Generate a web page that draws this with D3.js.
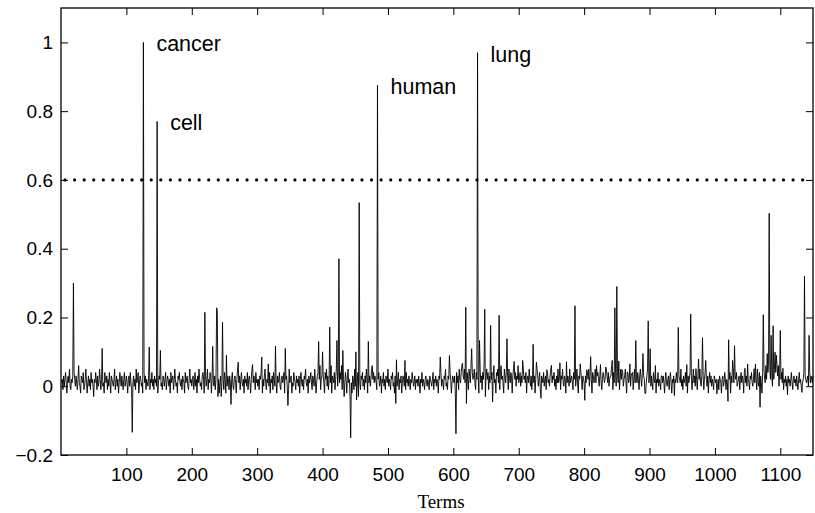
<!DOCTYPE html>
<html>
<head>
<meta charset="utf-8">
<script src="https://cdn.jsdelivr.net/npm/d3@7"></script>
<style>
  body { margin: 0; background: #fff; }
  text { font-family: "Liberation Sans", Arial, sans-serif; }
</style>
</head>
<body>
<div id="main"></div>
<script>
// background weight of every term, read roughly off the band around zero
var noise = [
  // 1-100
  .01,.02,-.01,.03,0, .02,.04,.01,-.02,.02, .03,.01,.05,0,-.01, .02,.01,.03,-.02,.04,
  .02,0,.03,.01,-.01, .02,.06,.01,0,-.02, .03,.02,.01,.04,-.01, 0,.02,.05,.01,-.02,
  .01,.03,0,.02,-.01, .04,.01,.02,0,-.03, .02,.01,.04,.02,-.01, .03,0,.01,.05,.02,
  -.01,.02,.03,0,.01, -.02,.04,.02,.01,.03, -.01,.02,0,.04,.01, -.02,.03,.02,.01,0,
  .02,.05,-.01,.01,.03, 0,.02,-.02,.01,.04, .02,0,.03,.01,-.01, .02,.04,0,.01,.03,
  // 101-200
  .01,-.02,.02,.03,0, .04,.01,-.01,.02,.01, .03,0,.02,-.01,.05, .01,.02,.04,-.02,.01,
  .03,.02,0,.01,-.02, .02,.04,.01,.03,-.01, .02,.01,0,.03,.05, -.01,.02,.01,.04,0,
  .02,-.01,.03,.01,.02, 0,.04,-.02,.01,.03, .02,.05,0,.01,-.01, .03,.02,0,.02,.04,
  -.01,.01,.03,.02,0, .02,-.02,.04,.01,.02, .03,-.01,.01,.05,.02, 0,.01,-.02,.03,.02,
  .04,.01,0,.02,-.01, .03,.02,.01,-.02,.04, .01,.02,.03,0,-.01, .02,.05,.01,.02,0,
  // 201-300
  .02,.03,-.01,.01,.04, 0,.02,-.02,.03,.01, .05,.02,0,.01,-.01, .03,.04,.02,-.02,.01,
  .03,0,.02,.05,-.01, .02,.01,.04,.03,-.02, .02,.06,.01,0,.03, -.01,.02,.04,.01,-.03,
  .02,-.02,.01,.03,-.03, .01,0,.02,-.01,.04, .02,-.02,.01,0,.03, .02,-.01,.03,.01,0,
  .02,.04,0,-.01,.02, .03,.01,-.02,.02,.05, 0,.01,.03,-.01,.02, .04,.01,0,.02,-.02,
  .03,.01,.02,0,.04, -.01,.02,.03,.01,-.02, .02,.05,0,.01,.03, .02,-.01,.04,.01,.02,
  // 301-400
  0,.02,-.01,.03,.02, .04,.01,-.02,.02,0, .03,.05,.01,-.01,.02, .01,.03,0,.04,-.02,
  .02,.01,.03,-.01,.04, .02,0,.05,.01,-.02, .03,.01,.02,.04,0, -.01,.02,.03,.01,.02,
  .04,-.02,.01,.02,.03, 0,.02,-.01,.05,.01, .02,.03,-.02,.01,0, .04,.02,.01,-.01,.03,
  .01,.02,0,.03,-.02, .02,.04,.01,0,.02, -.01,.03,.02,.05,.01, 0,.02,-.02,.03,.01,
  .02,.04,.01,-.01,.03, .02,0,.05,.02,-.02, .01,.03,.04,0,.02, .06,-.01,.02,.03,.01,
  // 401-500
  .03,.01,-.02,.04,.02, .05,0,.03,-.01,.02, .04,.01,.06,-.02,.03, .02,.01,.04,-.01,.02,
  .05,.02,0,.03,-.02, .01,.04,.02,.06,-.01, .03,.02,-.03,.01,.04, .02,-.02,.03,.05,.01,
  .02,-.03,.04,.01,-.02, .03,.02,-.01,.05,0, -.02,.03,.01,.04,-.03, .02,.01,-.01,.03,.02,
  .04,0,.02,-.01,.03, .01,.05,.02,-.02,.04, .01,.03,0,.02,.05, -.01,.02,.04,.01,.03,
  .02,.01,-.01,.03,.02, .04,0,.01,.03,-.02, .02,.01,.04,0,.02, -.01,.03,.02,.01,.05,
  // 501-600
  0,.02,.01,-.01,.03, .02,.04,0,.01,-.02, .03,.02,.01,0,.02, .04,-.01,.02,.01,.03,
  -.02,.01,.03,.02,0, .02,-.01,.04,.01,.02, 0,.03,.01,-.01,.02, .01,.04,.02,0,.01,
  .03,-.01,.02,.01,.02, 0,.03,.01,-.02,.02, .01,.04,0,.02,.01, -.01,.02,.03,.01,0,
  .02,.01,-.01,.03,.02, .01,0,.02,.04,-.01, .02,.01,.03,0,.02, .01,-.02,.03,.02,.01,
  .04,0,.02,.01,-.01, .03,.02,.05,0,.01, -.01,.03,.02,.01,.04, .02,-.02,.01,.03,.02,
  // 601-700
  .01,.03,-.02,.02,.04, .01,.03,-.01,.05,.02, .01,.04,.06,-.01,.03, .02,.05,.01,.03,.02,
  .04,.02,-.01,.05,.03, .01,.06,-.02,.04,.02, .03,.05,.01,-.01,.04, .02,.07,.03,-.02,.02,
  .05,.01,.03,-.01,.04, .02,.06,.01,-.03,.03, .05,.02,.04,-.01,.03, .01,.05,.02,.04,0,
  .03,.06,.01,.02,-.02, .04,.03,.05,.01,.02, -.01,.04,.06,.02,.03, .01,-.02,.05,.03,.01,
  .04,.02,.03,-.01,.05, .02,.01,.04,.03,-.02, .03,.05,.01,.02,.04, 0,.03,.02,.06,.01,
  // 701-800
  .02,.04,0,.03,.01, -.01,.05,.02,.03,.01, .04,-.02,.02,.03,.01, .05,.02,0,.03,-.01,
  .02,.04,.01,.03,-.02, .02,.01,.05,.03,0, .02,.04,-.01,.01,.03, .02,.01,.04,0,.02,
  .03,-.01,.02,.04,.01, .02,0,.03,.05,-.02, .01,.03,.02,.04,0, .02,-.01,.03,.01,.05,
  .01,.02,.04,-.01,.03, .02,.05,.01,0,.03, .02,-.02,.04,.01,.03, .02,0,.05,.01,.02,
  .03,.01,-.01,.04,.02, .03,0,.02,.05,.01, -.02,.03,.02,.01,.04, .02,-.01,.03,.02,.01,
  // 801-900
  .02,.03,.01,-.01,.04, .02,.05,0,.03,.01, .02,-.02,.04,.03,.01, .02,.05,.01,-.01,.03,
  .04,.02,0,.03,.05, .01,-.01,.02,.04,.03, .01,.02,-.02,.05,.03, .01,.04,0,.02,.03,
  .03,.06,.02,-.01,.04, .01,.03,.05,0,.02, .04,.01,.03,-.01,.02, .05,.02,.01,.04,0,
  .02,.03,.05,.01,-.02, .03,.04,.01,.02,.06, 0,.03,.02,.04,-.01, .02,.05,.01,.03,.02,
  .01,.04,.02,-.01,.03, .05,.02,0,.04,.01, .03,.02,-.02,.04,.01, .03,.05,.02,.01,.03,
  // 901-1000
  .02,0,.03,.01,-.01, .04,.02,.01,.03,-.02, .02,.01,.04,0,.02, .01,-.01,.03,.02,.01,
  .03,.01,-.02,.02,.04, .01,0,.02,.03,-.01, .02,.04,.01,-.02,.02, .01,.03,0,.02,.01,
  .04,.02,.01,-.01,.03, .02,.01,.05,0,.02, -.01,.03,.01,.02,.04, 0,.02,-.02,.03,.01,
  .02,.04,.01,.03,-.01, .02,.05,.01,.03,0, .04,.02,-.01,.03,.01, .02,.05,.01,0,.03,
  .01,.03,-.01,.02,.04, .01,.02,0,.03,-.02, .02,.04,.01,.03,0, .02,.01,-.01,.03,.02,
  // 1001-1100
  .01,.02,.04,0,.02, -.01,.03,.02,.01,-.02, .02,.03,0,.01,.04, .02,-.01,.02,.01,.03,
  0,.02,.04,-.02,.03, .01,.02,.05,.01,-.01, .03,.02,.04,0,.01, .02,.03,-.01,.02,.04,
  .01,.03,.02,-.02,.04, .02,.01,.03,0,.05, .02,.01,-.01,.03,.02, .04,.01,0,.02,.03,
  .01,.04,.02,-.01,.05, .01,0,.04,.02,.03, .01,-.02,.04,0,.05, .02,.01,.06,.02,.01,
  .04,.07,.01,.05,.02, .08,.03,0,.06,.02, .05,-.01,.04,.09,.01, .03,.06,0,.04,.02,
  // 1101-1150
  .02,.04,.01,.03,-.01, .02,.01,.03,0,.02, -.01,.03,.01,.02,0, .02,.04,.01,-.01,.02,
  .03,.01,.02,0,.03, .01,-.01,.02,.04,.01, .02,0,.03,.01,.02, .04,.01,.03,.02,.01,
  .02,.03,0,.02,.04, .01,.03,.02,.01,.03
];

// terms that stand out from the band, and their weights
var peakTerms = [19, 63, 109, 126, 135, 147, 152, 220, 232, 238, 239, 247, 253, 260, 271, 293,
  307, 317, 328, 343, 347, 394, 400, 411, 422, 425, 431, 443, 451, 452, 456, 470, 476, 484,
  512, 513, 526, 580, 594, 604, 614, 619, 620, 628, 637, 640, 648, 657, 660, 670, 682, 693,
  706, 722, 727, 734, 743, 750, 763, 773, 786, 794, 801, 804, 810, 819, 825, 833, 843, 847,
  850, 853, 858, 866, 870, 873, 879, 890, 894, 898, 901, 909, 919, 938, 944, 957, 963, 971,
  975, 981, 986, 1003, 1020, 1021, 1027, 1030, 1046, 1050, 1060, 1062, 1069, 1074, 1080,
  1083, 1086, 1089, 1092, 1095, 1100, 1104, 1111, 1133, 1137, 1144];
var peakValues = [0.30, 0.11, -0.134, 1.0, 0.114, 0.77, 0.104, 0.215, 0.116, 0.228, 0.22, 0.186, 0.09, -0.053, 0.07, 0.063,
  0.085, 0.065, 0.117, 0.11, -0.056, 0.13, 0.10, 0.172, 0.133, 0.371, 0.104, -0.15, 0.10, -0.04, 0.534, 0.13, 0.06, 0.875,
  -0.05, 0.077, 0.075, 0.085, 0.089, -0.138, 0.067, 0.23, -0.05, 0.109, 0.97, 0.133, 0.224, 0.177, -0.046, 0.206, 0.138, 0.072,
  0.075, 0.122, 0.07, -0.035, 0.048, 0.061, 0.068, 0.071, 0.234, 0.065, -0.041, 0.048, 0.086, 0.06, 0.063, 0.056, 0.075, 0.228,
  0.29, 0.073, 0.048, 0.041, 0.065, 0.038, 0.133, 0.095, -0.022, 0.19, 0.109, 0.06, 0.03, -0.027, 0.171, 0.063, 0.21, 0.051,
  0.079, 0.141, 0.075, -0.022, -0.044, 0.135, 0.075, 0.118, 0.052, 0.065, 0.051, 0.065, -0.061, 0.208, 0.095,
  0.503, 0.148, 0.176, 0.099, 0.06, 0.162, 0.052, -0.025, -0.018, 0.32, 0.148];

var labelWords = ["cancer", "cell", "human", "lung"];
var labelTerms = [126, 147, 484, 637];

var xTicks = [100, 200, 300, 400, 500, 600, 700, 800, 900, 1000, 1100];
var yTicks = [-0.2, 0, 0.2, 0.4, 0.6, 0.8, 1];
var threshold = 0.6;
var xLabel = "Terms";

var weights = noise.slice();
peakTerms.forEach(function(t, i) { weights[t - 1] = peakValues[i]; });
var data = weights.map(function(v, i) { return {term: i + 1, w: v}; });

var width = 815, height = 513;
var plotLeft = 61, plotRight = 813, plotTop = 8, plotBottom = 455;

var svg = d3.select("#main").append("svg")
    .attr("width", width)
    .attr("height", height);

var x = d3.scaleLinear().domain([0, 1150]).range([plotLeft, plotRight]);
var y = d3.scaleLinear().domain([-0.2, 1.1]).range([plotBottom, plotTop]);

var line = d3.line()
    .x(function(d) { return x(d.term); })
    .y(function(d) { return y(d.w); });

svg.append("path")
    .datum(data)
    .attr("d", line)
    .attr("fill", "none")
    .attr("stroke", "black")
    .attr("stroke-width", 0.9)
    .attr("stroke-linejoin", "miter");

// dotted threshold
svg.append("line")
    .attr("x1", x(0) + 4).attr("x2", plotRight - 3)
    .attr("y1", y(threshold)).attr("y2", y(threshold))
    .attr("stroke", "black")
    .attr("stroke-width", 3.2)
    .attr("stroke-linecap", "round")
    .attr("stroke-dasharray", "0 9.58");

// word labels next to their peaks
svg.selectAll("text.word")
    .data(labelWords)
    .enter()
    .append("text")
    .attr("class", "word")
    .attr("x", function(d, i) { return x(labelTerms[i]) + 13; })
    .attr("y", function(d, i) { return y(weights[labelTerms[i] - 1]) + 9; })
    .attr("font-size", 21.5)
    .text(function(d) { return d; });

function fmt(d) { return (d < 0 ? "\u2212" : "") + Math.abs(d); }

var tick = 7;
svg.append("g")
    .attr("transform", "translate(0," + plotBottom + ")")
    .call(d3.axisBottom(x).tickValues(xTicks).tickSize(-tick).tickPadding(13).tickFormat(d3.format("d")));
svg.append("g")
    .attr("transform", "translate(0," + plotTop + ")")
    .call(d3.axisTop(x).tickValues(xTicks).tickSize(-tick).tickFormat(""));
svg.append("g")
    .attr("transform", "translate(" + plotLeft + ",0)")
    .call(d3.axisLeft(y).tickValues(yTicks).tickSize(-tick).tickPadding(8).tickFormat(fmt));
svg.append("g")
    .attr("transform", "translate(" + plotRight + ",0)")
    .call(d3.axisRight(y).tickValues(yTicks).tickSize(-tick).tickFormat(""));

svg.selectAll(".domain").remove();
svg.selectAll(".tick line").attr("stroke", "black").attr("stroke-width", 1);
svg.selectAll(".tick text")
    .attr("fill", "black")
    .style("font-family", "'Liberation Sans', Arial, sans-serif")
    .style("font-size", "19px");

svg.append("rect")
    .attr("x", plotLeft).attr("y", plotTop)
    .attr("width", plotRight - plotLeft).attr("height", plotBottom - plotTop)
    .attr("fill", "none")
    .attr("stroke", "black")
    .attr("stroke-width", 1.3);

svg.append("text")
    .attr("x", (plotLeft + plotRight) / 2 + 4)
    .attr("y", 508)
    .attr("text-anchor", "middle")
    .style("font-family", "'Liberation Serif', 'Times New Roman', serif")
    .style("font-size", "19px")
    .text(xLabel);
</script>
</body>
</html>
